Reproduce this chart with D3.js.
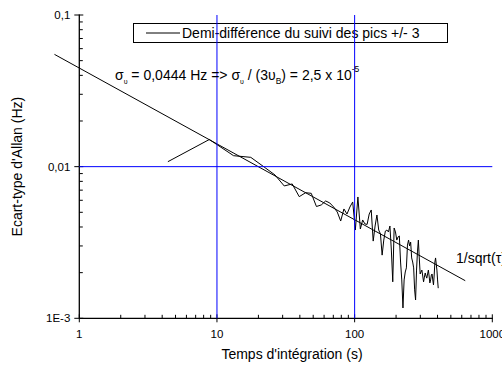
<!DOCTYPE html>
<html lang="fr">
<head>
<meta charset="UTF-8">
<title>Ecart-type d'Allan</title>
<style>
  body { margin: 0; background: #fff; }
  svg { display: block; font-family: "Liberation Sans", Arial, sans-serif; }
</style>
<script src="https://cdn.jsdelivr.net/npm/d3@7"></script>
</head>
<body>
<div id="chart"></div>
<script>
// temps d'intégration (s)
const tau = [4.4, 8.8, 13.2, 17.6, 22, 26.4, 30.8, 35.2, 39.6, 44, 48.4, 52.8, 57.2, 61.6, 66, 70.4,
  74.8, 79.2, 83.6, 88, 92.4, 96.8, 101.2, 105.6, 110, 114.4, 118.8, 123.2, 127.6, 132, 136.4, 140.8,
  145.2, 149.6, 154, 158.4, 162.8, 167.2, 171.6, 176, 180.4, 184.8, 189.2, 193.6, 198, 202.4, 206.8,
  211.2, 215.6, 220, 224.4, 228.8, 233.2, 237.6, 242, 246.4, 250.8, 255.2, 259.6, 264, 268.4, 272.8,
  277.2, 281.6, 286, 290.4, 294.8, 299.2, 303.6, 308, 312.4, 316.8, 321.2, 325.6, 330, 334.4, 338.8,
  343.2, 347.6, 352, 356.4, 360.8, 365.2, 369.6, 374, 378.4, 382.8, 387.2, 391.6, 396, 400.4, 404.8];

// écart-type d'Allan (Hz)
const allan = [0.01078, 0.0151, 0.01181, 0.01152, 0.00995, 0.00881, 0.00746, 0.00769, 0.00634, 0.00673,
  0.00667, 0.00546, 0.00559, 0.00594, 0.00576, 0.00542, 0.00502, 0.00438, 0.00526, 0.00487, 0.00542,
  0.00585, 0.00382, 0.00631, 0.00388, 0.00445, 0.00419, 0.00416, 0.00487, 0.00518, 0.00323, 0.00406,
  0.0048, 0.00382, 0.0036, 0.00261, 0.00328, 0.00376, 0.00382, 0.00371, 0.00406, 0.00282, 0.00174,
  0.00394, 0.00371, 0.00328, 0.00344, 0.00349, 0.00235, 0.00179, 0.00117, 0.00179, 0.00202, 0.00215,
  0.00304, 0.00328, 0.003, 0.00318, 0.0025, 0.00235, 0.00215, 0.00154, 0.00132, 0.00208, 0.00274,
  0.00328, 0.0025, 0.00196, 0.00202, 0.00208, 0.0019, 0.00174, 0.00187, 0.00199, 0.0019, 0.00184,
  0.00196, 0.00208, 0.0019, 0.00171, 0.00179, 0.00193, 0.00196, 0.00179, 0.00166, 0.00193, 0.00235,
  0.0025, 0.00228, 0.00208, 0.00179, 0.00158];

// droite en 1/sqrt(tau)
const fitTau = [0.66, 636];
const fitSigma = [0.055, 0.00177];

const xMajor = [1, 10, 100, 1000];
const xTickLabels = ["1", "10", "100", "1000"];
const yMajor = [0.001, 0.01, 0.1];
const yTickLabels = ["1E-3", "0,01", "0,1"];
const refX = [10, 100];
const refY = [0.01];

const width = 502, height = 367;
const mLeft = 79.3, mRight = 492.3, mTop = 15, mBottom = 318.3;

const x = d3.scaleLog().domain([1, 1000]).range([mLeft, mRight]);
const y = d3.scaleLog().domain([0.001, 0.1]).range([mBottom, mTop]);

const svg = d3.select("#chart").append("svg")
    .attr("width", width)
    .attr("height", height);

// ticks
const xMinor = x.ticks().filter(d => !xMajor.includes(d));
const yMinor = y.ticks().filter(d => !yMajor.includes(d));

const ax = svg.append("g").attr("stroke", "#000").attr("stroke-width", 1);

ax.selectAll(".xmin").data(xMinor).join("line")
    .attr("x1", d => x(d)).attr("x2", d => x(d))
    .attr("y1", mBottom).attr("y2", mBottom - 3.5);
ax.selectAll(".xmaj").data(xMajor).join("line")
    .attr("x1", d => x(d)).attr("x2", d => x(d))
    .attr("y1", mBottom + 4).attr("y2", mBottom - 4);
ax.selectAll(".ymin").data(yMinor).join("line")
    .attr("y1", d => y(d)).attr("y2", d => y(d))
    .attr("x1", mLeft).attr("x2", mLeft + 3.5);
ax.selectAll(".ymaj").data(yMajor).join("line")
    .attr("y1", d => y(d)).attr("y2", d => y(d))
    .attr("x1", mLeft - 5).attr("x2", mLeft + 4);

svg.append("g").selectAll("text").data(xMajor).join("text")
    .attr("x", d => x(d)).attr("y", 338)
    .attr("text-anchor", "middle")
    .attr("font-size", 11.5)
    .text((d, i) => xTickLabels[i]);

svg.append("g").selectAll("text").data(yMajor).join("text")
    .attr("x", mLeft - 9).attr("y", d => y(d)).attr("dy", "0.35em")
    .attr("text-anchor", "end")
    .attr("font-size", 11.5)
    .text((d, i) => yTickLabels[i]);

// axis lines
svg.append("line").attr("x1", mLeft).attr("x2", mLeft).attr("y1", mTop - 0.5).attr("y2", mBottom)
    .attr("stroke", "#000").attr("stroke-width", 1.3);
svg.append("line").attr("x1", mLeft).attr("x2", mRight + 0.5).attr("y1", mBottom).attr("y2", mBottom)
    .attr("stroke", "#000").attr("stroke-width", 1.3);

// axis titles
svg.append("text")
    .attr("x", 292).attr("y", 359)
    .attr("text-anchor", "middle").attr("font-size", 14)
    .text("Temps d'intégration (s)");
svg.append("text")
    .attr("transform", `translate(22,${(mTop + mBottom) / 2}) rotate(-90)`)
    .attr("text-anchor", "middle").attr("font-size", 14)
    .text("Ecart-type d'Allan (Hz)");

// fit line
svg.append("path")
    .datum(fitTau.map((t, i) => [t, fitSigma[i]]))
    .attr("fill", "none").attr("stroke", "#000").attr("stroke-width", 1)
    .attr("d", d3.line().x(d => x(d[0])).y(d => y(d[1])));

// data
svg.append("path")
    .datum(tau.map((t, i) => [t, allan[i]]))
    .attr("fill", "none").attr("stroke", "#000").attr("stroke-width", 1)
    .attr("stroke-linejoin", "round")
    .attr("d", d3.line().x(d => x(d[0])).y(d => y(d[1])));

// legend
const lg = svg.append("g");
lg.append("rect").attr("x", 133.5).attr("y", 23.5).attr("width", 314).attr("height", 19)
    .attr("fill", "none").attr("stroke", "#000").attr("stroke-width", 1);
lg.append("line").attr("x1", 146).attr("x2", 180).attr("y1", 33).attr("y2", 33)
    .attr("stroke", "#000").attr("stroke-width", 1);
lg.append("text").attr("x", 182).attr("y", 38).attr("font-size", 14)
    .text("Demi-différence du suivi des pics +/- 3");

// reference lines
svg.append("g").selectAll("line").data(refX).join("line")
    .attr("x1", d => x(d)).attr("x2", d => x(d)).attr("y1", mTop).attr("y2", mBottom)
    .attr("stroke", "#0000ff").attr("stroke-width", 1);
svg.append("g").selectAll("line").data(refY).join("line")
    .attr("x1", mLeft).attr("x2", mRight).attr("y1", d => y(d)).attr("y2", d => y(d))
    .attr("stroke", "#0000ff").attr("stroke-width", 1);

// annotation
const ann = svg.append("text").attr("x", 115).attr("y", 80).attr("font-size", 14);
ann.append("tspan").text("σ");
ann.append("tspan").attr("font-size", 7).attr("dy", 4).text("υ");
ann.append("tspan").attr("dy", -4).text(" = 0,0444 Hz => σ");
ann.append("tspan").attr("font-size", 7).attr("dy", 4).text("υ");
ann.append("tspan").attr("dy", -4).text(" / (3υ");
ann.append("tspan").attr("font-size", 8.5).attr("dy", 4).text("B");
ann.append("tspan").attr("dy", -4).text(") = 2,5 x 10");
ann.append("tspan").attr("font-size", 8.5).attr("dy", -8).text("-5");

svg.append("text").attr("x", 456).attr("y", 263).attr("font-size", 14)
    .text("1/sqrt(τ)");
</script>
</body>
</html>
